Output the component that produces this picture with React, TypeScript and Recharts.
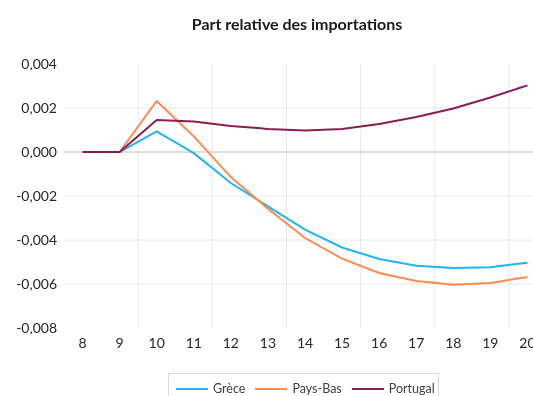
import React from "react";
import { LineChart, Line, XAxis, YAxis, ReferenceLine, Legend } from "recharts";

const periods = [8, 9, 10, 11, 12, 13, 14, 15, 16, 17, 18, 19, 20];
const grece = [0, 0, 0.00094, -0.00005, -0.00141, -0.00247, -0.00353, -0.00434, -0.00486, -0.00517, -0.00527, -0.00524, -0.00503];
const paysBas = [0, 0, 0.00232, 0.00071, -0.00114, -0.00258, -0.00391, -0.00485, -0.0055, -0.00586, -0.00603, -0.00595, -0.00568];
const portugal = [0, 0, 0.00145, 0.00139, 0.00118, 0.00105, 0.00098, 0.00105, 0.00127, 0.00159, 0.00198, 0.00248, 0.00303];
const yTicks = [-0.008, -0.006, -0.004, -0.002, 0, 0.002, 0.004];
const gridYValues = [0.002, -0.002, -0.004, -0.006];
const gridXValues = [9.5, 11.5, 13.5, 15.5, 17.5, 19.5];

const series = [
  { key: "grece", name: "Grèce", color: "#1FB4F2" },
  { key: "paysBas", name: "Pays-Bas", color: "#FF8A4C" },
  { key: "portugal", name: "Portugal", color: "#8A1C56" },
];

const data = periods.map((p, i) => ({ x: p, grece: grece[i], paysBas: paysBas[i], portugal: portugal[i] }));

const fmt = (v: number) => v.toFixed(3).replace(".", ",");
const FONT = "Lato, 'Open Sans', sans-serif";

const LegendContent = (props: any) => {
  const payload = props.payload || [];
  return (
    <div
      style={{
        border: "1px solid #d9d9d9",
        borderBottom: "none",
        height: 30,
        boxSizing: "border-box",
        display: "flex",
        alignItems: "center",
        paddingLeft: 7,
        fontFamily: FONT,
        fontSize: 12.5,
        color: "#404040",
        whiteSpace: "nowrap",
      }}
    >
      {payload.map((entry: any) => (
        <div key={entry.value} style={{ display: "flex", alignItems: "center", marginRight: 10, whiteSpace: "nowrap" }}>
          <svg width={32} height={4} style={{ marginRight: 5 }}>
            <line x1={0} y1={2} x2={32} y2={2} stroke={entry.color} strokeWidth={2} />
          </svg>
          <span>{entry.value}</span>
        </div>
      ))}
    </div>
  );
};

export default function App() {
  return (
    <div style={{ position: "fixed", left: 8, top: 8, width: 525, height: 388, overflow: "hidden" }}>
      <svg style={{ position: "absolute", left: 0, top: 0, zIndex: 1 }} width={525} height={40}>
        <text x={289} y={22} textAnchor="middle" fontFamily={FONT} fontWeight={700} fontSize={16} fill="#1a1a1a">
          Part relative des importations
        </text>
      </svg>
      <LineChart width={560} height={388} data={data} margin={{ top: 56, right: 22, bottom: 38, left: 0 }}>
        <XAxis
          dataKey="x"
          type="number"
          domain={[7.5, 20.5]}
          ticks={periods}
          interval={0}
          axisLine={false}
          tickLine={false}
          tickSize={6}
          tickMargin={4}
          height={30}
          tick={{ fontFamily: FONT, fontSize: 14, fill: "#262626" }}
        />
        <YAxis
          type="number"
          domain={[-0.008, 0.004]}
          ticks={yTicks}
          interval={0}
          width={56}
          axisLine={false}
          tickLine={false}
          tickSize={5}
          tickMargin={2}
          tickFormatter={fmt}
          tick={{ fontFamily: FONT, fontSize: 14, fill: "#262626" }}
        />
        {gridXValues.map((v) => (
          <ReferenceLine key={"gx" + v} x={v} stroke="#e8e8e8" strokeWidth={1} />
        ))}
        {gridYValues.map((v) => (
          <ReferenceLine key={"gy" + v} y={v} stroke="#e8e8e8" strokeWidth={1} />
        ))}
        <ReferenceLine y={0} stroke="#bfbfbf" strokeWidth={1} />
        {series.map((s) => (
          <Line
            key={s.key}
            type="linear"
            dataKey={s.key}
            name={s.name}
            stroke={s.color}
            strokeWidth={2}
            dot={false}
            activeDot={false}
            isAnimationActive={false}
          />
        ))}
        <Legend
          layout="horizontal"
          verticalAlign="middle"
          align="center"
          content={LegendContent}
          wrapperStyle={{ position: "absolute", left: 160, top: 365, width: 271, height: 30 }}
        />
      </LineChart>
    </div>
  );
}
